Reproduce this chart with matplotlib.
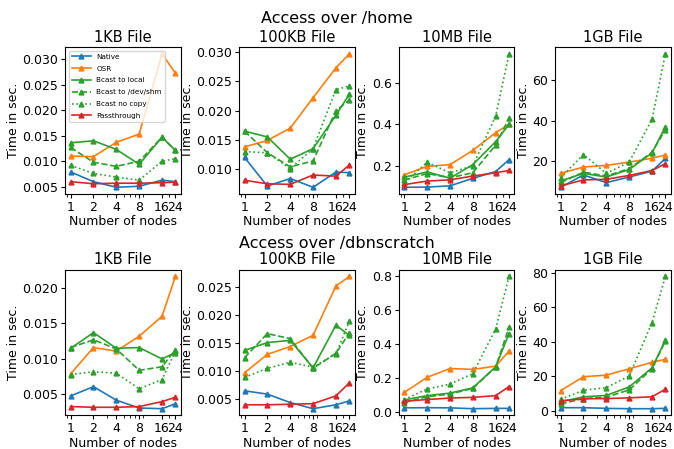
import matplotlib.pyplot as plt
from matplotlib.ticker import NullFormatter, MultipleLocator

nodes = [1, 2, 4, 8, 16, 24]
sizes = ['1KB File', '100KB File', '10MB File', '1GB File']
rows = ['Access over /home', 'Access over /dbnscratch']
labels = ['Native', 'OSR', 'Bcast to local', 'Bcast to /dev/shm', 'Bcast no copy', 'Passthrough']

# /home, one list per file size, series in the order of labels
home_1kb = [
    [0.0079, 0.0060, 0.0049, 0.0051, 0.0063, 0.0060],
    [0.0110, 0.0109, 0.0137, 0.0153, 0.0310, 0.0272],
    [0.0136, 0.0140, 0.0123, 0.0094, 0.0147, 0.0121],
    [0.0127, 0.0098, 0.0090, 0.0100, 0.0147, 0.0121],
    [0.0092, 0.0076, 0.0069, 0.0063, 0.0100, 0.0105],
    [0.0060, 0.0056, 0.0057, 0.0057, 0.0058, 0.0059],
]
home_100kb = [
    [0.0120, 0.0071, 0.0084, 0.0069, 0.0095, 0.0094],
    [0.0138, 0.0149, 0.0170, 0.0222, 0.0273, 0.0297],
    [0.0165, 0.0155, 0.0117, 0.0135, 0.0192, 0.0228],
    [0.0165, 0.0128, 0.0104, 0.0114, 0.0200, 0.0218],
    [0.0130, 0.0128, 0.0101, 0.0135, 0.0236, 0.0242],
    [0.0081, 0.0075, 0.0074, 0.0090, 0.0088, 0.0107],
]
home_10mb = [
    [0.097, 0.098, 0.104, 0.140, 0.173, 0.230],
    [0.157, 0.198, 0.206, 0.275, 0.360, 0.400],
    [0.146, 0.171, 0.141, 0.206, 0.317, 0.400],
    [0.132, 0.163, 0.143, 0.167, 0.300, 0.430],
    [0.120, 0.217, 0.167, 0.200, 0.440, 0.740],
    [0.110, 0.127, 0.133, 0.151, 0.167, 0.178],
]
home_1gb = [
    [7.4, 13.4, 9.7, 12.4, 15.3, 21.5],
    [14.2, 17.3, 18.1, 19.7, 21.6, 23.2],
    [10.5, 14.2, 12.4, 16.1, 24.2, 37.0],
    [9.7, 14.8, 12.9, 16.5, 24.5, 35.5],
    [12.1, 23.4, 14.2, 19.7, 40.6, 72.6],
    [8.1, 11.0, 11.3, 13.2, 15.6, 19.0],
]

# /dbnscratch
scratch_1kb = [
    [0.0048, 0.0061, 0.0042, 0.0031, 0.0030, 0.0037],
    [0.0079, 0.0116, 0.0111, 0.0132, 0.0160, 0.0216],
    [0.0115, 0.0137, 0.0115, 0.0116, 0.0100, 0.0109],
    [0.0116, 0.0127, 0.0114, 0.0084, 0.0089, 0.0113],
    [0.0078, 0.0082, 0.0080, 0.0058, 0.0071, 0.0111],
    [0.0033, 0.0032, 0.0032, 0.0033, 0.0040, 0.0046],
]
scratch_100kb = [
    [0.0065, 0.0059, 0.0044, 0.0033, 0.0040, 0.0047],
    [0.0097, 0.0130, 0.0144, 0.0164, 0.0252, 0.0269],
    [0.0137, 0.0151, 0.0155, 0.0106, 0.0182, 0.0164],
    [0.0124, 0.0167, 0.0158, 0.0105, 0.0132, 0.0168],
    [0.0089, 0.0105, 0.0116, 0.0107, 0.0131, 0.0189],
    [0.0040, 0.0040, 0.0041, 0.0042, 0.0056, 0.0079],
]
scratch_10mb = [
    [0.025, 0.026, 0.025, 0.020, 0.022, 0.022],
    [0.116, 0.205, 0.257, 0.252, 0.271, 0.360],
    [0.072, 0.097, 0.112, 0.143, 0.267, 0.463],
    [0.056, 0.091, 0.106, 0.140, 0.265, 0.500],
    [0.074, 0.136, 0.165, 0.227, 0.490, 0.800],
    [0.064, 0.074, 0.083, 0.087, 0.097, 0.151],
]
scratch_1gb = [
    [1.9, 1.9, 1.5, 1.3, 1.3, 1.5],
    [11.8, 19.8, 20.8, 24.4, 28.2, 29.9],
    [5.3, 8.2, 9.0, 13.9, 25.0, 41.0],
    [4.0, 7.2, 8.0, 12.2, 24.4, 40.6],
    [6.7, 12.0, 13.5, 20.2, 51.2, 77.9],
    [5.9, 7.0, 7.2, 7.6, 8.2, 12.6],
]

data = [[home_1kb, home_100kb, home_10mb, home_1gb],
        [scratch_1kb, scratch_100kb, scratch_10mb, scratch_1gb]]

# y tick spacing per panel
ysteps = [[0.005, 0.005, 0.2, 20],
          [0.005, 0.005, 0.2, 20]]

colors = ['tab:blue', 'tab:orange', 'tab:green', 'tab:green', 'tab:green', 'tab:red']
styles = ['-', '-', '-', '--', ':', '-']

fig = plt.figure(figsize=(6.74, 4.49), dpi=100)

lefts = [0.097, 0.355, 0.592, 0.824]
bottoms = [0.568, 0.075]
heights = [0.327, 0.324]
w = 0.171
title_y = [0.958, 0.457]

for r in range(2):
    fig.text(0.5, title_y[r], rows[r], ha='center', va='center', fontsize=11.5)
    for c in range(4):
        ax = fig.add_axes([lefts[c], bottoms[r], w, heights[r]])
        for i, series in enumerate(data[r][c]):
            ax.plot(nodes, series, color=colors[i], linestyle=styles[i], marker='^',
                    markersize=3.5, linewidth=1.2, label=labels[i])
        ax.set_xscale('log')
        ax.set_xticks(nodes, ['1', '2', '4', '8', '16', '24'])
        ax.xaxis.set_minor_formatter(NullFormatter())
        ax.yaxis.set_major_locator(MultipleLocator(ysteps[r][c]))
        ax.tick_params(labelsize=9, length=3, pad=2)
        ax.tick_params(which='minor', length=1.8)
        ax.set_title(sizes[c], fontsize=10.5, pad=4)
        ax.set_ylabel('Time in sec.', fontsize=9, labelpad=2)
        ax.set_xlabel('Number of nodes', fontsize=9, labelpad=1)
        if r == 0 and c == 0:
            ax.legend(loc='upper left', fontsize=5.2, handlelength=2.6, labelspacing=0.8)

plt.savefig('out.png', dpi=100)
